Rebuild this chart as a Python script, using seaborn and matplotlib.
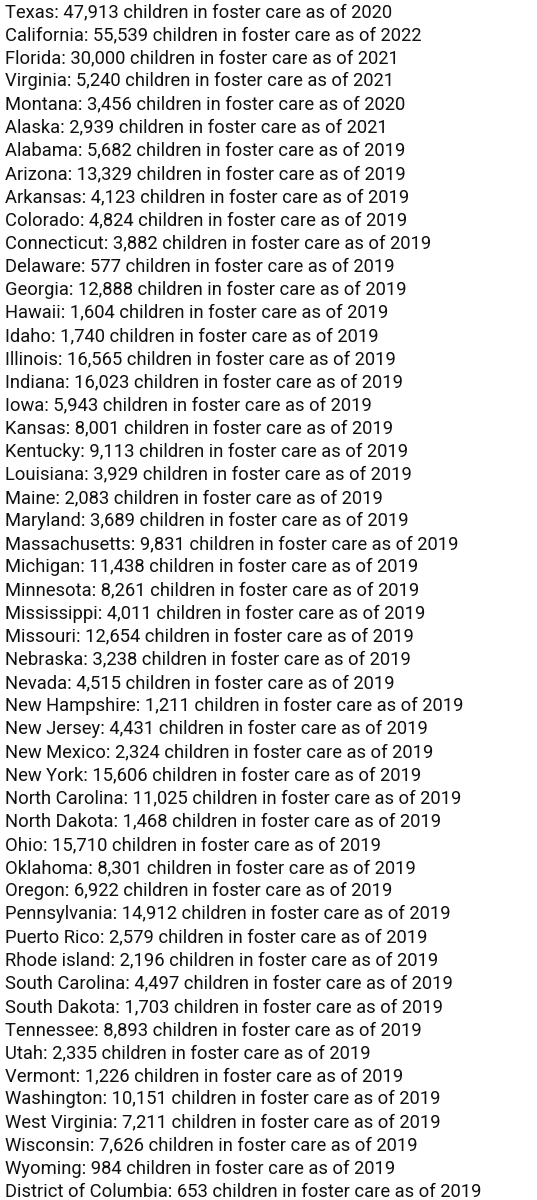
import matplotlib
matplotlib.use("Agg")
import matplotlib.pyplot as plt
import seaborn as sns

states = ["Texas","California","Florida","Virginia","Montana","Alaska","Alabama","Arizona","Arkansas","Colorado",
"Connecticut","Delaware","Georgia","Hawaii","Idaho","Illinois","Indiana","Iowa","Kansas","Kentucky","Louisiana",
"Maine","Maryland","Massachusetts","Michigan","Minnesota","Mississippi","Missouri","Nebraska","Nevada",
"New Hampshire","New Jersey","New Mexico","New York","North Carolina","North Dakota","Ohio","Oklahoma","Oregon",
"Pennsylvania","Puerto Rico","Rhode island","South Carolina","South Dakota","Tennessee","Utah","Vermont",
"Washington","West Virginia","Wisconsin","Wyoming","District of Columbia"]
counts = [47913,55539,30000,5240,3456,2939,5682,13329,4123,4824,3882,577,12888,1604,1740,16565,16023,5943,8001,
9113,3929,2083,3689,9831,11438,8261,4011,12654,3238,4515,1211,4431,2324,15606,11025,1468,15710,8301,6922,
14912,
2579,2196,4497,1703,8893,2335,1226,10151,7211,7626,984,653]
years = [2020,2022,2021,2021,2020,2021] + [2019]*46

sns.set_theme(style="white")
plt.rcParams['font.family'] = ['Roboto', 'DejaVu Sans']
fig = plt.figure(figsize=(5.37, 12), dpi=100)
ax = fig.add_axes([0, 0, 1, 1])
ax.set_xlim(0, 537)
ax.set_ylim(1200, 0)
ax.axis("off")
n = len(states)
for i, (s, c, y) in enumerate(zip(states, counts, years)):
    ypos = 12 + i * (1180 / (n - 1))
    ax.text(5, ypos, f"{s}: {c:,} children in foster care as of {y}", fontsize=13.2,
            color="#111111", va="center", ha="left")
fig.savefig("out.png", dpi=100, facecolor="white")
